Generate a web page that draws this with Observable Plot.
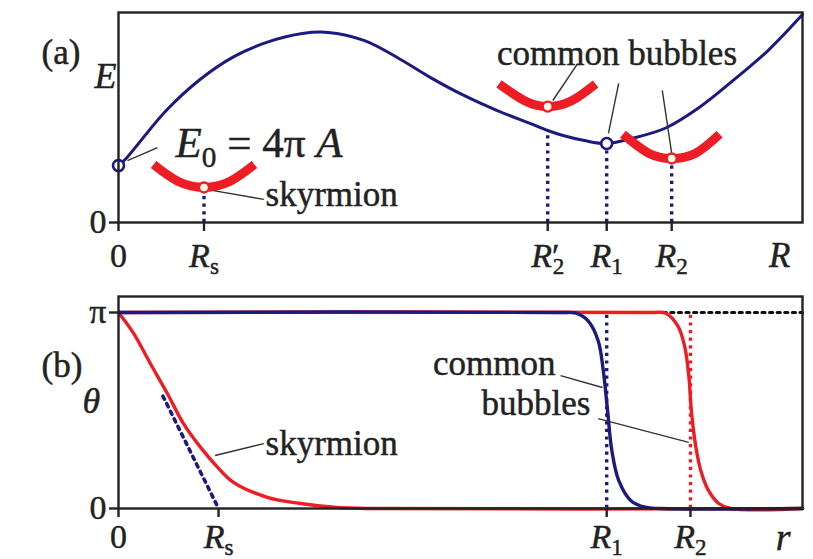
<!DOCTYPE html>
<html><head><meta charset="utf-8">
<script src="https://cdn.jsdelivr.net/npm/d3@7"></script>
<script src="https://cdn.jsdelivr.net/npm/@observablehq/plot@0.6"></script>
<style>
body{margin:0;background:#fff;}
#chart{width:813px;height:559px;overflow:hidden;background:#fff;}
#chart svg{display:block;font-family:"Liberation Serif","Times New Roman",Times,serif !important;}
#chart svg text{white-space:pre;font-family:"Liberation Serif","Times New Roman",Times,serif !important;stroke:#222;stroke-width:0.45px;}
</style></head><body><div id="chart"></div>
<script>
// ---------- Panel (a): energy E(R) ----------
const energyR = [0, 0.1, 0.55, 0.95, 1.35, 1.75, 2.15, 2.45, 2.87, 3.26, 3.65, 4.04, 4.43, 4.82, 5.02, 5.2, 5.45, 5.71, 6.0, 6.4, 6.8, 7.2, 7.6, 8.0];
const energyE = [0.27, 0.31, 0.53, 0.68, 0.79, 0.86, 0.90, 0.905, 0.867, 0.786, 0.69, 0.605, 0.533, 0.471, 0.438, 0.414, 0.39, 0.376, 0.40, 0.45, 0.55, 0.68, 0.82, 0.99];
// red energy wells (schematic)
const wellSkyR = [0.41, 0.7, 1.0, 1.3, 1.59];
const wellSkyE = [0.276, 0.195, 0.167, 0.195, 0.276];
const wellAR = [4.45, 4.75, 5.02, 5.3, 5.58];
const wellAE = [0.66, 0.58, 0.552, 0.58, 0.66];
const wellBR = [5.9, 6.2, 6.47, 6.75, 7.03];
const wellBE = [0.42, 0.33, 0.305, 0.33, 0.42];
// marked states
const blueDotR = [0, 5.71];
const blueDotE = [0.271, 0.376];
const redDotR = [1.0, 5.02, 6.47];
const redDotE = [0.167, 0.552, 0.305];
// dotted drop lines (R, top E)
const dropR = [1.0, 5.02, 5.71, 6.47];
const dropTop = [0.15, 0.43, 0.36, 0.29];
// ticks
const aTickR = [0, 1.0, 5.02, 5.71, 6.47];
const aTickLabel = ["0", "*R*_s", "*R*′_2", "*R*_1", "*R*_2"];
// annotations
const eqLabel = "*E*_0 = 4π *A*";
const eqR = 0.667, eqE = 0.376;
const skyLabelA = "skyrmion", skyLabelAR = 1.72, skyLabelAE = 0.133;
const bubLabelA = "common bubbles", bubLabelAR = 5.83, bubLabelAE = 0.802;
const aLeaderR1 = [0.105, 1.11, 5.37, 5.85, 6.36];
const aLeaderE1 = [0.295, 0.152, 0.757, 0.662, 0.629];
const aLeaderR2 = [0.456, 1.70, 5.08, 5.73, 6.47];
const aLeaderE2 = [0.357, 0.110, 0.581, 0.424, 0.329];

// ---------- Panel (b): profiles theta(r) ----------
const PI = Math.PI;
const skyR = [0, 0.175, 0.374, 0.573, 0.76, 0.96, 1.16, 1.345, 1.74, 2.13, 2.52, 2.91, 8];
const skyT = [PI, 2.81, 2.32, 1.84, 1.36, 0.98, 0.66, 0.42, 0.18, 0.08, 0.02, 0, 0];
const bub1R = [0, 5.17, 5.35, 5.49, 5.61, 5.67, 5.72, 5.77, 5.85, 5.99, 6.16, 6.34, 8];
const bub1T = [PI, PI, 3.13, 3.01, 2.69, 2.21, 1.57, 0.93, 0.45, 0.13, 0.02, 0, 0];
const bub2R = [0, 6.22, 6.40, 6.54, 6.62, 6.67, 6.70, 6.75, 6.81, 6.90, 7.02, 7.16, 8];
const bub2T = [PI, PI, 3.13, 2.93, 2.61, 2.13, 1.57, 1.01, 0.61, 0.29, 0.08, 0, 0];
const tangentR = [0.52, 1.17];
const tangentT = [1.80, 0];
const piDottedR = [6.37, 8];
const bTickR = [0, 1.17, 5.71, 6.69];
const bTickLabel = ["0", "*R*_s", "*R*_1", "*R*_2"];
const bEndLabels = ["common", "bubbles"];
const bEndLabelR = [5.11, 5.52];
const bEndLabelT = [2.316, 1.675];
const skyLabelB = "skyrmion", skyLabelBR = 1.72, skyLabelBT = 1.034;
const bLeaderR1 = [5.17, 5.61, 1.13];
const bLeaderT1 = [2.13, 1.44, 0.85];
const bLeaderR2 = [5.66, 6.67, 1.70];
const bLeaderT2 = [1.94, 1.06, 1.04];
const thetaLabelT = 1.715;

// ---------- styling ----------
const BLUE = "#1c1a7e", RED = "#ee1c24", INK = "#222";
const FONT = "'Liberation Serif', 'Times New Roman', serif";
const zip = (xs, ys) => xs.map((x, i) => ({x, y: ys[i]}));
const links = (x1, y1, x2, y2) => x1.map((d, i) => ({x1: d, y1: y1[i], x2: x2[i], y2: y2[i]}));
const DOT = "3.2,4.4";

const common = {
  width: 813,
  marginLeft: 118,
  marginRight: 11,
  style: {fontFamily: FONT, fontSize: "34px", color: INK, background: "transparent", overflow: "visible"}
};

const plotA = Plot.plot({
  ...common,
  height: 280,
  marginTop: 12,
  marginBottom: 58,
  x: {domain: [0, 8]},
  y: {domain: [0, 1]},
  marks: [
    Plot.ruleX(dropR.map((r, i) => ({x: r, y2: dropTop[i]})), {x: "x", y1: 0, y2: "y2", stroke: BLUE, strokeWidth: 3.4, strokeDasharray: DOT}),
    Plot.line(zip(energyR, energyE), {x: "x", y: "y", curve: "catmull-rom", stroke: BLUE, strokeWidth: 3}),
    ...[[wellSkyR, wellSkyE], [wellAR, wellAE], [wellBR, wellBE]].map(([r, e]) =>
      Plot.line(zip(r, e), {x: "x", y: "y", curve: "natural", stroke: RED, strokeWidth: 9, strokeLinecap: "butt"})),
    Plot.link(links(aLeaderR1, aLeaderE1, aLeaderR2, aLeaderE2), {x1: "x1", y1: "y1", x2: "x2", y2: "y2", stroke: "#333", strokeWidth: 1.4}),
    Plot.dot(zip(blueDotR, blueDotE), {x: "x", y: "y", r: 5.5, fill: "white", stroke: BLUE, strokeWidth: 2.6}),
    Plot.dot(zip(redDotR, redDotE), {x: "x", y: "y", r: 5, fill: "#fffbe8", stroke: RED, strokeWidth: 2.4}),
    Plot.frame({stroke: INK, strokeWidth: 2.4}),
    Plot.text([eqLabel], {x: eqR, y: eqE, text: (d) => d, textAnchor: "start", fontSize: 43, fill: INK}),
    Plot.text([skyLabelA], {x: skyLabelAR, y: skyLabelAE, text: (d) => d, textAnchor: "start", fontSize: 35, fill: INK}),
    Plot.text([bubLabelA], {x: bubLabelAR, y: bubLabelAE, text: (d) => d, textAnchor: "middle", fontSize: 35, fill: INK}),
    Plot.axisX({ticks: aTickR, tickFormat: (d) => aTickLabel[aTickR.indexOf(d)], tickSize: 9, tickPadding: 11, fontSize: 34, color: INK, strokeWidth: 2.4, label: null}),
    Plot.axisY({ticks: [0], tickFormat: () => "0", tickSize: 9, tickPadding: 3, fontSize: 34, color: INK, strokeWidth: 2.4, label: null}),
    Plot.text(["R"], {frameAnchor: "bottom-right", dx: -12, dy: 20, lineAnchor: "top", fontSize: 35, fontStyle: "italic", fill: INK}),
    Plot.text(["E"], {frameAnchor: "left", dx: -24, dy: -41, fontSize: 36, fontStyle: "italic", fill: INK}),
    Plot.text(["(a)"], {frameAnchor: "top-left", dx: -77, dy: 27, fontSize: 35, fill: INK})
  ]
});

const plotB = Plot.plot({
  ...common,
  height: 279,
  marginTop: 16,
  marginBottom: 51,
  x: {domain: [0, 8]},
  y: {domain: [0, PI * 212 / 196]},
  marks: [
    Plot.ruleX([{x: 5.71, c: BLUE}, {x: 6.69, c: RED}], {x: "x", y1: 0, y2: PI, stroke: "c", strokeWidth: 3.4, strokeDasharray: DOT}),
    Plot.line(zip(piDottedR, [PI, PI]), {x: "x", y: "y", stroke: "#111", strokeWidth: 3, strokeDasharray: DOT}),
    Plot.line(zip(tangentR, tangentT), {x: "x", y: "y", stroke: BLUE, strokeWidth: 3.6, strokeDasharray: "3.4,5"}),
    Plot.line(zip(bub2R, bub2T), {x: "x", y: "y", curve: "catmull-rom", stroke: RED, strokeWidth: 3.4}),
    Plot.line(zip(skyR, skyT), {x: "x", y: "y", curve: "catmull-rom", stroke: RED, strokeWidth: 3.4}),
    Plot.line(zip(bub1R, bub1T), {x: "x", y: "y", curve: "catmull-rom", stroke: BLUE, strokeWidth: 3.4}),
    Plot.link(links(bLeaderR1, bLeaderT1, bLeaderR2, bLeaderT2), {x1: "x1", y1: "y1", x2: "x2", y2: "y2", stroke: "#333", strokeWidth: 1.4}),
    Plot.frame({stroke: INK, strokeWidth: 2.4}),
    Plot.text(zip(bEndLabelR, bEndLabelT).map((d, i) => ({...d, t: bEndLabels[i]})), {x: "x", y: "y", text: "t", textAnchor: "end", fontSize: 35, fill: INK}),
    Plot.text([skyLabelB], {x: skyLabelBR, y: skyLabelBT, text: (d) => d, textAnchor: "start", fontSize: 35, fill: INK}),
    Plot.axisX({ticks: bTickR, tickFormat: (d) => bTickLabel[bTickR.indexOf(d)], tickSize: 9, tickPadding: 6, fontSize: 34, color: INK, strokeWidth: 2.4, label: null}),
    Plot.axisY({ticks: [0, PI], tickFormat: (d) => d === 0 ? "0" : "π", tickSize: 9, tickPadding: 3, fontSize: 34, color: INK, strokeWidth: 2.4, label: null}),
    Plot.text(["r"], {frameAnchor: "bottom-right", dx: -12, dy: 15, lineAnchor: "top", fontSize: 38, fontStyle: "italic", fill: INK}),
    Plot.text([thetaLabelT], {frameAnchor: "left", y: (d) => d, dx: -36, fontSize: 36, fontStyle: "italic", fill: INK, text: () => "θ"}),
    Plot.text(["(b)"], {frameAnchor: "top-left", dx: -77, dy: 56, fontSize: 35, fill: INK})
  ]
});

const host = document.getElementById("chart");
host.appendChild(plotA);
host.appendChild(plotB);

// rich text: *italic*, _x subscript
const NS = "http://www.w3.org/2000/svg";
function rich(root) {
  root.querySelectorAll("text").forEach((t) => {
    if (t.querySelector("tspan")) return;
    const s = t.textContent;
    if (!/[*_]/.test(s)) return;
    const fs = parseFloat(getComputedStyle(t).fontSize) || 34;
    while (t.firstChild) t.removeChild(t.firstChild);
    let italic = false, buf = "", reset = 0, prev = "";
    const span = (str, attrs) => {
      const sp = document.createElementNS(NS, "tspan");
      sp.textContent = str;
      for (const k in attrs) sp.setAttribute(k, attrs[k]);
      t.appendChild(sp);
    };
    const flush = () => {
      if (!buf) return;
      const a = {};
      if (italic) a["font-style"] = "italic";
      if (reset) { a.dy = -reset; reset = 0; }
      span(buf, a);
      prev = buf; buf = "";
    };
    for (let i = 0; i < s.length; i++) {
      const c = s[i];
      if (c === "*") { flush(); italic = !italic; continue; }
      if (c === "_") {
        flush();
        const d = fs * 0.22;
        const a = {"font-size": fs * 0.68, dy: d};
        if (prev.endsWith("′")) a.dx = -fs * 0.2;
        span(s[++i], a);
        reset = d; prev = s[i];
        continue;
      }
      buf += c;
    }
    flush();
  });
}
rich(host);
</script></body></html>
